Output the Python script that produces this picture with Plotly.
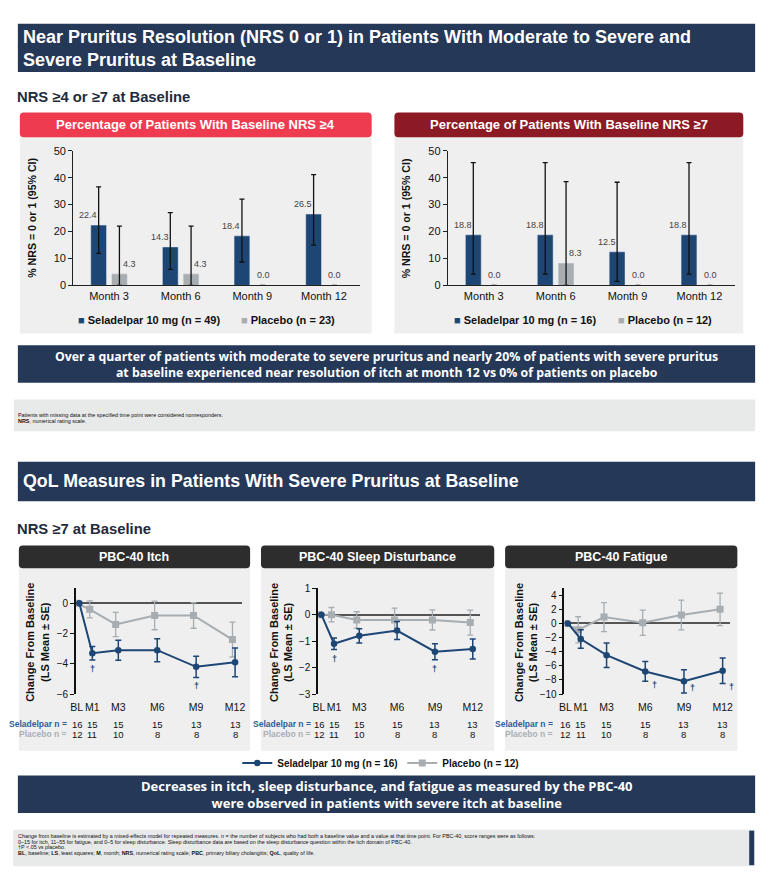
import plotly.graph_objects as go

W, H = 771, 884
def PX(x): return x / W
def PY(y): return 1 - y / H

ARIAL = "Liberation Sans, Arial, sans-serif"
OPEN = "Open Sans, Liberation Sans, sans-serif"

NAVY = "#253858"
SEL = "#1d4675"
PBO = "#a7adb1"
PANEL = "#efefef"

# ---------------- data ----------------
bar_months = ["Month 3", "Month 6", "Month 9", "Month 12"]
nrs4_sel = [22.4, 14.3, 18.4, 26.5]
nrs4_sel_hi = [36.6, 27.0, 32.0, 41.1]
nrs4_sel_lo = [11.9, 6.0, 8.7, 15.0]
nrs4_pbo = [4.3, 4.3, 0.0, 0.0]
nrs4_pbo_hi = [22.0, 22.0, None, None]
nrs4_pbo_lo = [0.0, 0.0, None, None]
nrs7_sel = [18.8, 18.8, 12.5, 18.8]
nrs7_sel_hi = [45.6, 45.6, 38.3, 45.6]
nrs7_sel_lo = [4.2, 4.2, 1.5, 4.2]
nrs7_pbo = [0.0, 8.3, 0.0, 0.0]
nrs7_pbo_hi = [None, 38.5, None, None]
nrs7_pbo_lo = [None, 0.0, None, None]

months = [0, 1, 3, 6, 9, 12]
month_labels = ["BL", "M1", "M3", "M6", "M9", "M12"]
itch_sel = [0, -3.3, -3.1, -3.1, -4.2, -3.9]
itch_sel_se = [None, 0.45, 0.66, 0.76, 0.70, 0.95]
itch_pbo = [0, -0.4, -1.4, -0.8, -0.8, -2.4]
itch_pbo_se = [None, 0.56, 0.80, 0.95, 0.85, 1.15]
sleep_sel = [0, -1.1, -0.8, -0.6, -1.4, -1.3]
sleep_sel_se = [None, 0.22, 0.27, 0.34, 0.30, 0.38]
sleep_pbo = [0, 0.0, -0.2, -0.2, -0.2, -0.3]
sleep_pbo_se = [None, 0.27, 0.31, 0.45, 0.38, 0.47]
fat_sel = [0, -2.2, -4.5, -6.8, -8.2, -6.7]
fat_sel_se = [None, 1.3, 1.75, 1.4, 1.65, 1.8]
fat_pbo = [0, -0.9, 0.9, 0.1, 1.2, 2.0]
fat_pbo_se = [None, 1.85, 2.05, 1.8, 2.1, 2.3]
sel_n = [16, 15, 15, 15, 13, 13]
pbo_n = [12, 11, 10, 8, 8, 8]
itch_dagger = [1, 9]
sleep_dagger = [1, 9]
fat_dagger = [6, 9, 12]

fig = go.Figure()
shapes = []
ann = []

def rrect(x0, y0, x1, y1, color, r=4):
    rx, ry = r / W, r / H
    a0, a1, b0, b1 = PX(x0), PX(x1), PY(y0), PY(y1)
    p = (f"M{a0+rx},{b0} L{a1-rx},{b0} Q{a1},{b0} {a1},{b0-ry} L{a1},{b1+ry} "
         f"Q{a1},{b1} {a1-rx},{b1} L{a0+rx},{b1} Q{a0},{b1} {a0},{b1+ry} "
         f"L{a0},{b0-ry} Q{a0},{b0} {a0+rx},{b0} Z")
    shapes.append(dict(type="path", path=p, xref="paper", yref="paper",
                       fillcolor=color, line=dict(width=0), layer="below"))

def rect(x0, y0, x1, y1, color):
    shapes.append(dict(type="rect", xref="paper", yref="paper", x0=PX(x0), x1=PX(x1),
                       y0=PY(y1), y1=PY(y0), fillcolor=color, line=dict(width=0), layer="below"))

def text(x, y, s, size, color="#000", family=ARIAL, xa="left", ya="middle", angle=0, align="left"):
    ann.append(dict(x=PX(x), y=PY(y), xref="paper", yref="paper", text=s, showarrow=False,
                    xanchor=xa, yanchor=ya, textangle=angle, align=align, borderpad=0,
                    font=dict(size=size, color=color, family=family)))

# ---------------- background blocks ----------------
rect(12, 18, 758, 67, NAVY)
text(16, 43, "<b>Near Pruritus Resolution (NRS 0 or 1) in Patients With Moderate to Severe and<br>Severe Pruritus at Baseline</b>",
     18, "white", ARIAL)
text(10, 92, "<b>NRS ≥4 or ≥7 at Baseline</b>", 14.8, "#1f2b3d", ARIAL)

rect(14, 128, 370, 332, PANEL)
rect(393, 128, 746, 332, PANEL)
rrect(14, 108, 370, 133, "#ef3b50")
rrect(393, 108, 746, 133, "#8b1a24")
text(192, 120.5, "<b>Percentage of Patients With Baseline NRS ≥4</b>", 13, "white", ARIAL, xa="center")
text(569.5, 120.5, "<b>Percentage of Patients With Baseline NRS ≥7</b>", 13, "white", ARIAL, xa="center")

rect(12, 344, 758, 382, NAVY)
text(385, 363, "<b>Over a quarter of patients with moderate to severe pruritus and nearly 20% of patients with severe pruritus<br>at baseline experienced near resolution of itch at month 12 vs 0% of patients on placebo</b>",
     12.3, "white", OPEN, xa="center", align="center")

rect(8, 399, 758, 431, "#e8e9e9")
text(11, 415, "Patients with missing data at the specified time point were considered nonresponders.", 5.4, "#111", ARIAL)
text(11, 421, "<b>NRS</b>, numerical rating scale.", 5.4, "#111", ARIAL)

rect(12, 462, 758, 502, NAVY)
text(16, 482, "<b>QoL Measures in Patients With Severe Pruritus at Baseline</b>", 17.8, "white", ARIAL)
text(10, 530, "<b>NRS ≥7 at Baseline</b>", 14.8, "#1f2b3d", ARIAL)

line_panels = [(13, 247, "PBC-40 Itch"), (258, 494, "PBC-40 Sleep Disturbance"), (505, 740, "PBC-40 Fatigue")]
for x0, x1, t in line_panels:
    rect(x0, 565, x1, 755, PANEL)
    rrect(x0, 547, x1, 570, "#2d2d2d")
    text((x0 + x1) / 2, 558.5, f"<b>{t}</b>", 12.5, "white", ARIAL, xa="center")

rect(12, 780, 758, 818, NAVY)
text(385, 799, "<b>Decreases in itch, sleep disturbance, and fatigue as measured by the PBC-40<br>were observed in patients with severe itch at baseline</b>",
     13, "white", OPEN, xa="center", align="center")

rect(7, 835, 758, 872, "#e8e9e9")
rect(752, 836, 757, 871, NAVY)
foot = ["Change from baseline is estimated by a mixed-effects model for repeated measures. n = the number of subjects who had both a baseline value and a value at that time point. For PBC-40, score ranges were as follows:",
        "0–15 for itch, 11–55 for fatigue, and 0–5 for sleep disturbance. Sleep disturbance data are based on the sleep disturbance question within the itch domain of PBC-40.",
        "†P &lt;.05 vs placebo.",
        "<b>BL</b>, baseline; <b>LS</b>, least squares; <b>M</b>, month; <b>NRS</b>, numerical rating scale; <b>PBC</b>, primary biliary cholangitis; <b>QoL</b>, quality of life."]
for i, s in enumerate(foot):
    text(11, 841.7 + i * 5.55, s, 5.4, "#111", ARIAL)

# ---------------- bar charts ----------------
def errs(vals, hi, lo):
    plus = [None if h is None else h - v for v, h in zip(vals, hi)]
    minus = [None if l is None else v - l for v, l in zip(vals, lo)]
    return plus, minus

bar_sets = [
    ("x", "y", nrs4_sel, nrs4_sel_hi, nrs4_sel_lo, nrs4_pbo, nrs4_pbo_hi, nrs4_pbo_lo, 49, 23, 72, 237),
    ("x2", "y2", nrs7_sel, nrs7_sel_hi, nrs7_sel_lo, nrs7_pbo, nrs7_pbo_hi, nrs7_pbo_lo, 16, 12, 452, 618),
]
for xa_, ya_, sv, sh, sl, pv, ph, pl, ns, npb, lx1, lx2 in bar_sets:
    sel_name = f"Seladelpar 10 mg (n = {ns})"
    pbo_name = f"Placebo (n = {npb})"
    p, m = errs(sv, sh, sl)
    fig.add_trace(go.Bar(x=bar_months, y=sv, xaxis=xa_, yaxis=ya_, showlegend=False, marker_color=SEL,
                         name=sel_name,
                         error_y=dict(type="data", array=p, arrayminus=m, color="#111", thickness=1.3, width=2.5)))
    p, m = errs(pv, ph, pl)
    fig.add_trace(go.Bar(x=bar_months, y=pv, xaxis=xa_, yaxis=ya_, showlegend=False, marker_color=PBO,
                         name=pbo_name,
                         error_y=dict(type="data", array=p, arrayminus=m, color="#111", thickness=1.3, width=2.5)))
    for c, v in zip(bar_months, sv):
        ann.append(dict(x=c, y=v, xref=xa_, yref=ya_, text=f"{v:.1f}", showarrow=False,
                        xshift=-21, yshift=3, yanchor="bottom", font=dict(size=9, color="#444", family=ARIAL)))
    for c, v in zip(bar_months, pv):
        ann.append(dict(x=c, y=v, xref=xa_, yref=ya_, text=f"{v:.1f}", showarrow=False,
                        xshift=20 if v > 0 else 11, yshift=3, yanchor="bottom",
                        font=dict(size=9, color="#444", family=ARIAL)))
    text(lx1, 318, f"<span style='color:{SEL}'>■</span> <b>{sel_name}</b>", 11, "#111", ARIAL)
    text(lx2, 318, f"<span style='color:{PBO}'>■</span> <b>{pbo_name}</b>", 11, "#111", ARIAL)

bar_y = [PY(283.3), PY(146.7)]
bar_ax = dict(showline=True, linecolor="#222", linewidth=1, ticks="", showgrid=False,
              tickfont=dict(size=11, color="#111", family=ARIAL))
bar_yax = dict(range=[0, 50], dtick=10, showline=True, linecolor="#222", linewidth=1, ticks="outside",
               ticklen=4, tickcolor="#222", showgrid=False, zeroline=False,
               tickfont=dict(size=11, color="#111", family=ARIAL), domain=bar_y)
fig.update_layout(
    xaxis=dict(bar_ax, domain=[PX(68), PX(358)], anchor="y"),
    yaxis=dict(bar_yax, anchor="x"),
    xaxis2=dict(bar_ax, domain=[PX(447), PX(738)], anchor="y2"),
    yaxis2=dict(bar_yax, anchor="x2"),
    barmode="group", bargap=0.42, bargroupgap=0.24,
)
text(26, 215, "<b>% NRS = 0 or 1 (95% CI)</b>", 10.6, "#111", ARIAL, xa="center", angle=-90)
text(405, 215, "<b>% NRS = 0 or 1 (95% CI)</b>", 10.6, "#111", ARIAL, xa="center", angle=-90)

# ---------------- line charts ----------------
line_sets = [
    (3, itch_sel, itch_sel_se, itch_pbo, itch_pbo_se, [-6, 1], [-6, -4, -2, 0], itch_dagger, 70.7, 239, 32, False, 63),
    (4, sleep_sel, sleep_sel_se, sleep_pbo, sleep_pbo_se, [-3, 1], [-3, -2, -1, 0, 1], sleep_dagger, 315.7, 479.3, 278, False, 310),
    (5, fat_sel, fat_sel_se, fat_pbo, fat_pbo_se, [-10, 5], [-10, -8, -6, -4, -2, 0, 2, 4], fat_dagger, 565, 732.3, 526, True, 554),
]
PBO_SHIFT = -0.2
BL_LABEL_SHIFT = -0.2
tick_pos = [m + (BL_LABEL_SHIFT if m == 0 else 0) for m in months]
ly = [PY(697.5), PY(590.2)]
for k, ss, sse, ps, pse, yr, tv, dag, xl, xr, tx, side_dag, nlab in line_sets:
    xa_, ya_ = f"x{k}", f"y{k}"
    fig.add_trace(go.Scatter(x=[m + PBO_SHIFT for m in months], y=ps, xaxis=xa_, yaxis=ya_,
                             mode="lines+markers", legend="legend3", showlegend=(k == 3),
                             name="<b>Placebo (n = 12)</b>", legendrank=2,
                             line=dict(color=PBO, width=2), marker=dict(symbol="square", size=7, color=PBO),
                             error_y=dict(type="data", array=pse, color=PBO, thickness=1.3, width=3)))
    fig.add_trace(go.Scatter(x=months, y=ss, xaxis=xa_, yaxis=ya_,
                             mode="lines+markers", legend="legend3", showlegend=(k == 3),
                             name="<b>Seladelpar 10 mg (n = 16)</b>", legendrank=1,
                             line=dict(color=SEL, width=2), marker=dict(symbol="circle", size=6.5, color=SEL),
                             error_y=dict(type="data", array=sse, color=SEL, thickness=1.5, width=3)))
    fig.layout[f"xaxis{k}"] = dict(domain=[PX(xl), PX(xr)], range=[-0.27, 12.55], anchor=ya_,
                                   tickvals=tick_pos, ticktext=month_labels, showline=False, ticks="",
                                   showgrid=False, zeroline=False, tickangle=0, ticklabelstandoff=5,
                                   tickfont=dict(size=10.5, color="#111", family=ARIAL))
    fig.layout[f"yaxis{k}"] = dict(domain=ly, range=yr, tickvals=tv, anchor=xa_, showline=True,
                                   linecolor="#111", linewidth=1.5, ticks="outside", ticklen=4,
                                   tickcolor="#111", showgrid=False, zeroline=True,
                                   zerolinecolor="#555", zerolinewidth=2,
                                   tickfont=dict(size=10, color="#111", family=ARIAL))
    for d in dag:
        i = months.index(d)
        low = ss[i] - sse[i]
        if side_dag:
            ann.append(dict(x=d, y=max(low - 0.5, -9.2), xref=xa_, yref=ya_, text="<b>†</b>", showarrow=False,
                            yanchor="middle", xshift=9, font=dict(size=9, color=SEL, family=ARIAL)))
        else:
            ann.append(dict(x=d, y=low, xref=xa_, yref=ya_, text="<b>†</b>", showarrow=False,
                            yanchor="top", yshift=-2, font=dict(size=9, color=SEL, family=ARIAL)))
    text(tx, 645, "<b>Change From Baseline<br>(LS Mean ± SE)</b>", 11, "#111", ARIAL, xa="center", angle=-90, align="center")
    for m, a, b in zip(months, sel_n, pbo_n):
        ann.append(dict(x=m, y=PY(728.3), xref=xa_, yref="paper", text=str(a), showarrow=False,
                        yanchor="middle", xshift=-2 if m == 0 else 0,
                        font=dict(size=9.5, color="#111", family=ARIAL)))
        ann.append(dict(x=m, y=PY(738.5), xref=xa_, yref="paper", text=str(b), showarrow=False,
                        yanchor="middle", xshift=-2 if m == 0 else 0,
                        font=dict(size=9.5, color="#111", family=ARIAL)))
    text(nlab, 728.3, "<b>Seladelpar n =</b>", 8.5, "#2e5e9a", ARIAL, xa="right")
    text(nlab, 738.5, "<b>Placebo n =</b>", 8.5, "#aab0b5", ARIAL, xa="right")

fig.update_layout(
    legend3=dict(orientation="h", yanchor="middle", xanchor="left", bgcolor="rgba(0,0,0,0)",
                 x=PX(234), y=PY(767.3), font=dict(size=10, color="#111", family=ARIAL),
                 itemclick=False, traceorder="normal", borderwidth=0,
                 entrywidth=120, entrywidthmode="pixels"),
    width=W, height=H, autosize=False,
    margin=dict(l=0, r=0, t=0, b=0),
    paper_bgcolor="white", plot_bgcolor="rgba(0,0,0,0)",
    shapes=shapes, annotations=ann,
)

fig.write_html("out.html", config={"displayModeBar": False},
               post_script="document.body.style.margin='0';document.body.style.padding='0';document.body.style.overflow='hidden';")
